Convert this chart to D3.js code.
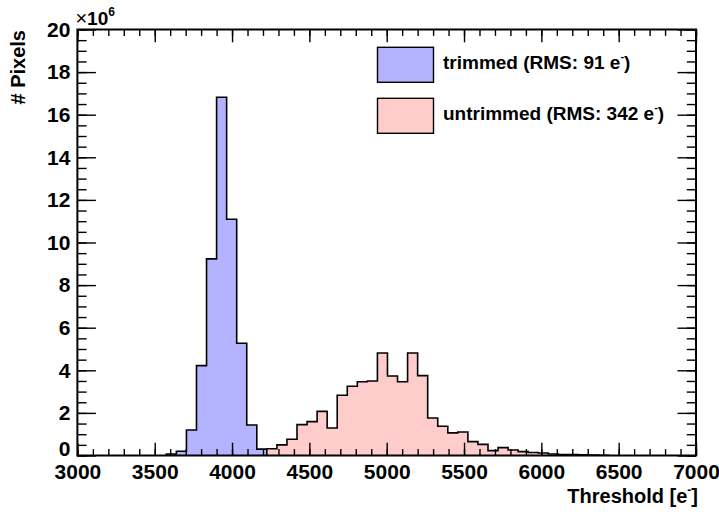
<!DOCTYPE html>
<html>
<head>
<meta charset="utf-8">
<script src="https://cdn.jsdelivr.net/npm/d3@7"></script>
<style>
  body { margin: 0; background: #fff; }
  svg { font-family: "Liberation Sans", Arial, sans-serif; font-weight: bold; }
</style>
</head>
<body>
<svg id="chart"></svg>
<script>
var width = 719,
    height = 516;

// histogram data: lower bin edges (e-) and contents (x 10^6 pixels), bin width 65 e-
var binWidth = 65;
var trimmedLow = [3575, 3640, 3705, 3770, 3835, 3900, 3965, 4030, 4095, 4160];
var trimmedCounts = [0.07, 0.2, 1.2, 4.22, 9.23, 16.82, 11.09, 5.27, 1.43, 0.3];

var untrimmedLow = [4225, 4290, 4355, 4420, 4485, 4550, 4615, 4680, 4745, 4810,
                    4875, 4940, 5005, 5070, 5135, 5200, 5265, 5330, 5395, 5460,
                    5525, 5590, 5655, 5720, 5785, 5850, 5915, 5980, 6045, 6110,
                    6175, 6240, 6305, 6370];
var untrimmedCounts = [0.32, 0.5, 0.76, 1.45, 1.59, 2.07, 1.29, 2.83, 3.25, 3.46,
                       3.5, 4.81, 3.73, 3.46, 4.81, 3.75, 1.76, 1.37, 1.06, 1.10,
                       0.65, 0.52, 0.23, 0.37, 0.26, 0.18, 0.14, 0.12, 0.07, 0.05,
                       0.04, 0.03, 0.02, 0.01];

var xTicks = [3000, 3500, 4000, 4500, 5000, 5500, 6000, 6500, 7000];
var yTicks = [0, 2, 4, 6, 8, 10, 12, 14, 16, 18, 20];

var legendItems = [
  {name: "trimmed (RMS: 91 e", fill: "#b3b3ff"},
  {name: "untrimmed (RMS: 342 e", fill: "#ffcccc"}
];

var padL = 77.4, padR = 696, padT = 29.5, padB = 455.5;

var svg = d3.select('#chart')
            .attr('width', width)
            .attr('height', height);

var x = d3.scaleLinear().domain([3000, 7000]).range([padL, padR]);
var y = d3.scaleLinear().domain([0, 20]).range([padB, padT]);

var stepLine = d3.line().x(d => x(d[0])).y(d => y(d[1]));

function histPoints(lows, counts) {
  var pts = [[lows[0], 0]];
  lows.forEach((lo, i) => {
    pts.push([lo, counts[i]]);
    pts.push([lo + binWidth, counts[i]]);
  });
  pts.push([lows[lows.length - 1] + binWidth, 0]);
  return pts;
}

function drawHist(lows, counts, fill) {
  svg.append('path')
     .attr('d', stepLine(histPoints(lows, counts)))
     .attr('fill', fill)
     .attr('stroke', '#000')
     .attr('stroke-width', 1.6);
}

drawHist(trimmedLow, trimmedCounts, legendItems[0].fill);
drawHist(untrimmedLow, untrimmedCounts, legendItems[1].fill);

// ticks on all four sides, pointing inwards (minor + major)
var xMinor = d3.range(3000, 7001, 100);
var yMinor = d3.range(0, 20.01, 0.5);

function tickAxis(axisFn, scale, pos, major, minor, majLen, minLen) {
  var g = svg.append('g').attr('transform', pos);
  g.append('g').call(axisFn(scale).tickValues(minor).tickSize(-minLen).tickFormat(''));
  g.append('g').call(axisFn(scale).tickValues(major).tickSize(-majLen).tickFormat(''));
  g.selectAll('.domain').remove();
  g.selectAll('line').attr('stroke', '#000').attr('stroke-width', 1.4);
}

tickAxis(d3.axisBottom, x, 'translate(0,' + padB + ')', xTicks, xMinor, 12.8, 6.4);
tickAxis(d3.axisTop, x, 'translate(0,' + padT + ')', xTicks, xMinor, 12.8, 6.4);
tickAxis(d3.axisLeft, y, 'translate(' + padL + ',0)', yTicks, yMinor, 18.5, 9.2);
tickAxis(d3.axisRight, y, 'translate(' + padR + ',0)', yTicks, yMinor, 18.5, 9.2);

// tick labels
var xLab = svg.append('g')
   .attr('transform', 'translate(0,' + padB + ')')
   .call(d3.axisBottom(x).tickValues(xTicks).tickSize(0).tickPadding(9).tickFormat(d3.format('d')));
xLab.select('.domain').remove();
xLab.selectAll('text').attr('font-size', 21).attr('font-family', null).attr('font-weight', 'bold').attr('fill', '#000');

var yLab = svg.append('g')
   .attr('transform', 'translate(' + padL + ',0)')
   .call(d3.axisLeft(y).tickValues(yTicks).tickSize(0).tickPadding(7).tickFormat(d3.format('d')));
yLab.select('.domain').remove();
yLab.selectAll('text').attr('font-size', 21).attr('font-family', null).attr('font-weight', 'bold').attr('fill', '#000');
yLab.selectAll('text').filter(d => d === 0).attr('dy', '0.02em');

// frame
svg.append('rect')
   .attr('x', padL).attr('y', padT)
   .attr('width', padR - padL).attr('height', padB - padT)
   .attr('fill', 'none').attr('stroke', '#000').attr('stroke-width', 2);

// exponent
var expo = svg.append('text').attr('x', padL - 2).attr('y', 25).attr('font-size', 19);
expo.append('tspan').attr('font-weight', 'normal').attr('font-size', 20).text('\u00d7');
expo.append('tspan').text('10');
expo.append('tspan').attr('font-size', 12).attr('dy', -9).text('6');

// axis titles
svg.append('text')
   .attr('transform', 'translate(25,30) rotate(-90)')
   .attr('text-anchor', 'end')
   .attr('font-size', 20)
   .text('# Pixels');

var xt = svg.append('text')
   .attr('x', padR + 2).attr('y', 503)
   .attr('text-anchor', 'end')
   .attr('font-size', 20);
xt.append('tspan').text('Threshold [e');
xt.append('tspan').attr('font-size', 12).attr('dy', -9).text('-');
xt.append('tspan').attr('dy', 9).text(']');

// legend
var leg = svg.append('g');
legendItems.forEach((item, i) => {
  var yy = 47.3 + i * 51;
  leg.append('rect')
     .attr('x', 377.5).attr('y', yy)
     .attr('width', 56).attr('height', 35)
     .attr('fill', item.fill).attr('stroke', '#000').attr('stroke-width', 1.4);
  var t = leg.append('text')
     .attr('x', 443).attr('y', yy + 22)
     .attr('font-size', 19);
  t.append('tspan').text(item.name);
  t.append('tspan').attr('font-size', 11).attr('dy', -9).text('-');
  t.append('tspan').attr('dy', 9).text(')');
});
</script>
</body>
</html>
